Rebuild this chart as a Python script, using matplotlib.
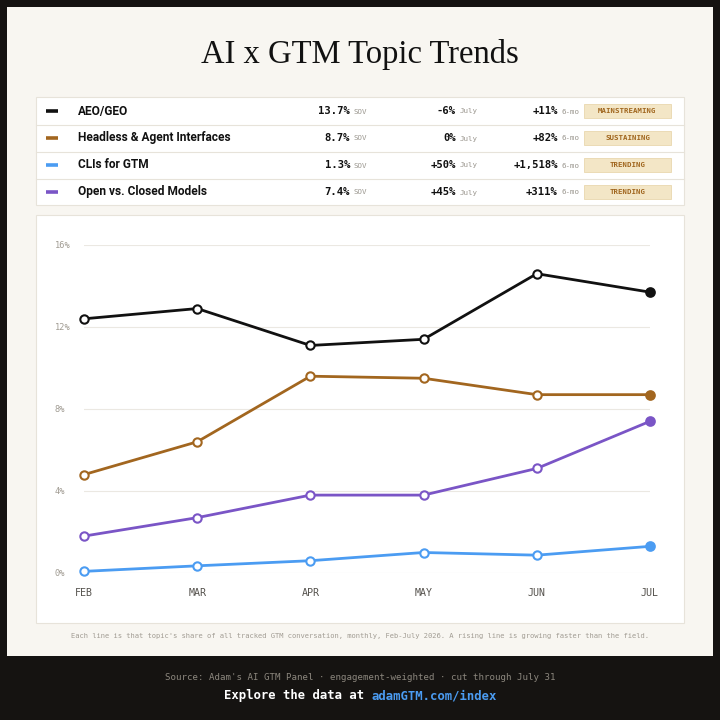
import matplotlib
matplotlib.use('Agg')
import matplotlib.pyplot as plt
from matplotlib.patches import Rectangle

# Dados
months = ['FEB', 'MAR', 'APR', 'MAY', 'JUN', 'JUL']
topics = ['AEO/GEO', 'Headless & Agent Interfaces', 'CLIs for GTM', 'Open vs. Closed Models']
aeo_geo = [12.4, 12.9, 11.1, 11.4, 14.6, 13.7]
headless = [4.8, 6.4, 9.6, 9.5, 8.7, 8.7]
clis = [0.08, 0.35, 0.6, 1.0, 0.87, 1.3]
open_closed = [1.8, 2.7, 3.8, 3.8, 5.1, 7.4]
sov = ['13.7%', '8.7%', '1.3%', '7.4%']
july_chg = ['-6%', '0%', '+50%', '+45%']
six_mo_chg = ['+11%', '+82%', '+1,518%', '+311%']
status = ['MAINSTREAMING', 'SUSTAINING', 'TRENDING', 'TRENDING']
yticks = [0, 4, 8, 12, 16]

series = [aeo_geo, headless, clis, open_closed]
colors = ['#111111', '#a2661f', '#4b9cf2', '#7a55c6']

SANS = 'Roboto'
MONO = 'DejaVu Sans Mono'
DARK = '#151311'
CREAM = '#f8f6f1'
BORDER = '#e7e3da'

fig = plt.figure(figsize=(7.2, 7.2), dpi=100, facecolor=DARK)

# Fundo em pixels
bg = fig.add_axes([0, 0, 1, 1])
bg.set_xlim(0, 720); bg.set_ylim(720, 0); bg.axis('off')
bg.add_patch(Rectangle((7, 7), 706, 649, facecolor=CREAM, edgecolor='none'))
bg.add_patch(Rectangle((36, 97), 648, 108, facecolor='white', edgecolor=BORDER, lw=0.8))
bg.add_patch(Rectangle((36, 215), 648, 408, facecolor='white', edgecolor=BORDER, lw=0.8))

bg.text(360, 55, 'AI x GTM Topic Trends', ha='center', va='center',
        family='Liberation Serif', fontsize=23.5, color='#111111')

# Tabela
row_y = [111, 138, 165, 192]
for i, y in enumerate(row_y):
    if i > 0:
        bg.plot([36, 684], [y - 13.5, y - 13.5], color=BORDER, lw=0.8)
    bg.plot([46, 58], [y, y], color=colors[i], lw=2.6, solid_capstyle='butt')
    bg.text(78, y, topics[i], ha='left', va='center', family=SANS,
            fontweight='bold', fontsize=8.6, color='#111111')
    bg.text(350, y, sov[i], ha='right', va='center', family=MONO,
            fontweight='bold', fontsize=7.6, color='#111111')
    bg.text(353, y + 0.5, 'SOV', ha='left', va='center', family=MONO,
            fontsize=5.4, color='#9a968e')
    bg.text(456, y, july_chg[i], ha='right', va='center', family=MONO,
            fontweight='bold', fontsize=7.6, color='#111111')
    bg.text(460, y + 0.5, 'July', ha='left', va='center', family=MONO,
            fontsize=5.4, color='#9a968e')
    bg.text(558, y, six_mo_chg[i], ha='right', va='center', family=MONO,
            fontweight='bold', fontsize=7.6, color='#111111')
    bg.text(562, y + 0.5, '6-mo', ha='left', va='center', family=MONO,
            fontsize=5.4, color='#9a968e')
    bg.add_patch(Rectangle((584, y - 7), 87, 14, facecolor='#f3e6c6',
                           edgecolor='#e9d7ae', lw=0.6))
    bg.text(627.5, y, status[i], ha='center', va='center', family=MONO,
            fontweight='bold', fontsize=5.3, color='#a0661e')

# Legendas de rodapé
bg.text(360, 636, "Each line is that topic's share of all tracked GTM conversation, "
        "monthly, Feb-July 2026. A rising line is growing faster than the field.",
        ha='center', va='center', family=MONO, fontsize=5.15, color='#a19c93')
bg.text(360, 678, "Source: Adam's AI GTM Panel \u00b7 engagement-weighted \u00b7 cut through July 31",
        ha='center', va='center', family=MONO, fontsize=6.6, color='#8c877e')
t1 = bg.text(0, 696, 'Explore the data at ', ha='left', va='center', family=MONO,
             fontweight='bold', fontsize=8.85, color='white')
t2 = bg.text(0, 696, 'adamGTM.com/index', ha='left', va='center', family=MONO,
             fontweight='bold', fontsize=8.85, color='#4b9cf2')
fig.canvas.draw()
inv = bg.transData.inverted()
w1 = t1.get_window_extent().transformed(inv).width
w2 = t2.get_window_extent().transformed(inv).width
start = 360 - (w1 + w2) / 2
t1.set_x(start)
t2.set_x(start + w1)

# Gráfico
ax = fig.add_axes([84 / 720, (720 - 573) / 720, (650 - 84) / 720, (573 - 245) / 720])
ax.set_facecolor('none')
x = list(range(len(months)))
for vals, c in zip(series, colors):
    ax.plot(x, vals, color=c, lw=2.0, zorder=3, clip_on=False)
    ax.plot(x[:-1], vals[:-1], 'o', ms=6, mfc='white', mec=c, mew=1.5,
            zorder=4, clip_on=False)
    ax.plot(x[-1:], vals[-1:], 'o', ms=6.5, mfc=c, mec=c, mew=1.2,
            zorder=4, clip_on=False)
ax.set_xlim(0, 5)
ax.set_ylim(0, 16)
ax.set_yticks(yticks)
ax.set_yticklabels([f'{t}%' for t in yticks])
ax.set_xticks(x)
ax.set_xticklabels(months)
ax.grid(axis='y', color='#ebe8e2', lw=0.8)
ax.set_axisbelow(True)
for s in ax.spines.values():
    s.set_visible(False)
ax.tick_params(length=0)
ax.tick_params(axis='y', pad=21, labelsize=6.2, labelcolor='#a19c93')
ax.tick_params(axis='x', pad=11, labelsize=7.2, labelcolor='#55524d')
for lb in ax.get_yticklabels():
    lb.set_ha('left'); lb.set_family(MONO)
for lb in ax.get_xticklabels():
    lb.set_family(MONO)

fig.savefig('out.png', dpi=100, facecolor=DARK)
